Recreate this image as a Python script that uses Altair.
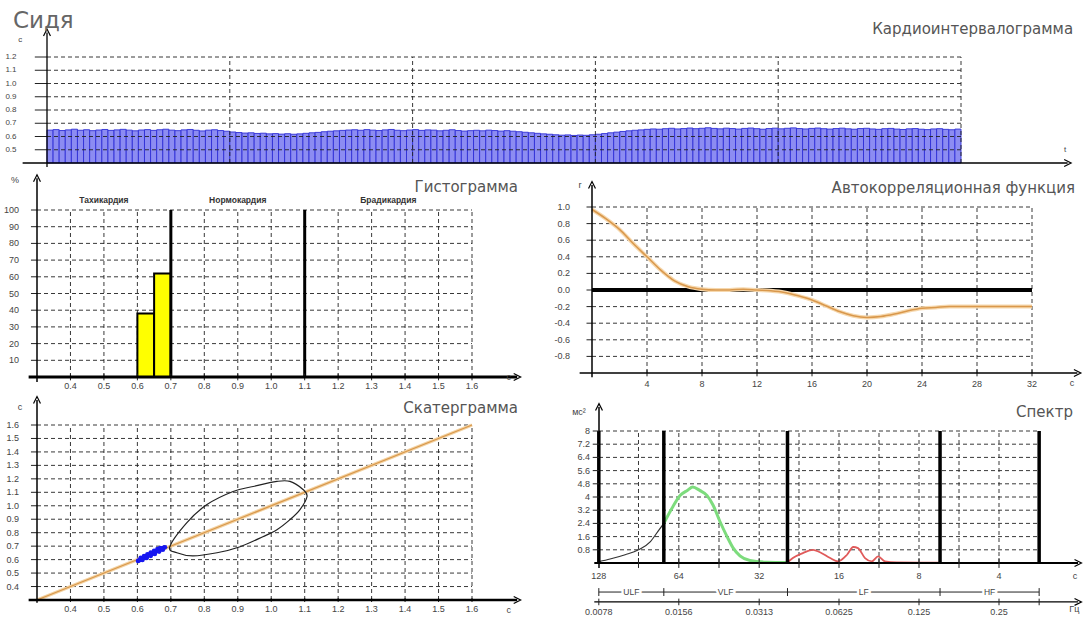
import altair as alt
import pandas as pd

# ---------------- data ----------------
# Кардиоинтервалограмма: RR intervals, s
rr_s = [0.648, 0.652, 0.645, 0.650, 0.655, 0.647, 0.651, 0.644, 0.649, 0.653,
        0.646, 0.650, 0.654, 0.648, 0.643, 0.649, 0.652, 0.646, 0.651, 0.655,
        0.648, 0.644, 0.650, 0.653, 0.647, 0.642, 0.648, 0.651, 0.645, 0.640,
        0.634, 0.630, 0.626, 0.628, 0.623, 0.625, 0.620, 0.622, 0.618, 0.621,
        0.617, 0.620, 0.624, 0.628, 0.631, 0.636, 0.640, 0.643, 0.646, 0.649,
        0.651, 0.647, 0.652, 0.648, 0.645, 0.650, 0.653, 0.647, 0.644, 0.649,
        0.652, 0.646, 0.650, 0.648, 0.643, 0.647, 0.651, 0.645, 0.641, 0.644,
        0.647, 0.643, 0.648, 0.645, 0.641, 0.644, 0.640, 0.636, 0.632, 0.628,
        0.624, 0.620, 0.617, 0.613, 0.610, 0.612, 0.608, 0.611, 0.609, 0.613,
        0.617, 0.622, 0.628, 0.633, 0.638, 0.643, 0.647, 0.650, 0.654, 0.657,
        0.655, 0.659, 0.662, 0.657, 0.660, 0.664, 0.659, 0.662, 0.666, 0.661,
        0.658, 0.663, 0.660, 0.656, 0.661, 0.664, 0.659, 0.655, 0.660, 0.663,
        0.658, 0.662, 0.665, 0.660, 0.657, 0.661, 0.664, 0.659, 0.656, 0.660,
        0.663, 0.658, 0.655, 0.660, 0.662, 0.657, 0.654, 0.659, 0.661, 0.656,
        0.653, 0.658, 0.660, 0.655, 0.652, 0.657, 0.659, 0.654, 0.651, 0.656]
top_y_ticks = [0.5, 0.6, 0.7, 0.8, 0.9, 1.0, 1.1, 1.2]
top_x_grid = [30, 60, 90, 120, 150]

# Гистограмма
hist_lo = [0.60, 0.65]
hist_hi = [0.65, 0.70]
hist_pct = [38, 62]
hist_x_ticks = [0.4, 0.5, 0.6, 0.7, 0.8, 0.9, 1.0, 1.1, 1.2, 1.3, 1.4, 1.5, 1.6]
hist_y_ticks = [10, 20, 30, 40, 50, 60, 70, 80, 90, 100]
zone_edges = [0.3, 0.7, 1.1, 1.6]
zone_names = ["Тахикардия", "Нормокардия", "Брадикардия"]

# Автокорреляционная функция
ac_lag = list(range(33))
ac_r = [0.97, 0.86, 0.73, 0.56, 0.40, 0.24, 0.11, 0.04, 0.01, 0.00, 0.00,
        0.01, 0.00, -0.01, -0.03, -0.07, -0.12, -0.19, -0.26, -0.31, -0.33,
        -0.32, -0.29, -0.25, -0.22, -0.21, -0.20, -0.20, -0.20, -0.20, -0.20,
        -0.20, -0.20]
ac_x_ticks = [4, 8, 12, 16, 20, 24, 28, 32]
ac_y_ticks = [1.0, 0.8, 0.6, 0.4, 0.2, 0.0, -0.2, -0.4, -0.6, -0.8]

# Скатерграмма
sc_rr_n = [0.602, 0.606, 0.610, 0.614, 0.618, 0.622, 0.626, 0.630, 0.634, 0.638,
           0.642, 0.646, 0.650, 0.654, 0.658, 0.662, 0.666, 0.670, 0.674, 0.678,
           0.682, 0.610, 0.620, 0.630, 0.640, 0.650, 0.660, 0.668, 0.615, 0.628,
           0.640, 0.652, 0.665, 0.676]
sc_rr_n1 = [0.590, 0.596, 0.601, 0.606, 0.612, 0.617, 0.622, 0.627, 0.633, 0.638,
            0.643, 0.648, 0.654, 0.659, 0.664, 0.669, 0.674, 0.679, 0.684, 0.688,
            0.692, 0.613, 0.626, 0.639, 0.652, 0.665, 0.678, 0.686, 0.598, 0.612,
            0.628, 0.642, 0.660, 0.674]
ell_x = [0.697, 0.748, 0.808, 0.886, 0.946, 1.017, 1.056, 1.095, 1.107, 1.086,
         1.056, 1.017, 0.975, 0.907, 0.838, 0.766, 0.718]
ell_y = [0.696, 0.875, 1.009, 1.106, 1.143, 1.181, 1.181, 1.121, 1.069, 0.972,
         0.897, 0.822, 0.770, 0.696, 0.651, 0.628, 0.651]
sc_ticks = [0.4, 0.5, 0.6, 0.7, 0.8, 0.9, 1.0, 1.1, 1.2, 1.3, 1.4, 1.5, 1.6]
diag = [0.3, 1.6]

# Спектр
ulf_f = [0.0078, 0.0086, 0.0098, 0.0110, 0.0122, 0.0130, 0.0137]
ulf_p = [0.08, 0.24, 0.50, 0.80, 1.30, 1.90, 2.40]
vlf_f = [0.0137, 0.0148, 0.0158, 0.0168, 0.0176, 0.0187, 0.0199, 0.0210,
         0.0223, 0.0237, 0.0250, 0.0265, 0.0289, 0.0335, 0.0400]
vlf_p = [2.40, 3.40, 4.10, 4.40, 4.60, 4.40, 4.10, 3.50, 2.50, 1.60, 0.90,
         0.43, 0.15, 0.05, 0.03]
lf_f = [0.0400, 0.0419, 0.0457, 0.0499, 0.0530, 0.0579, 0.0620, 0.0670, 0.0707,
        0.0737, 0.0783, 0.0831, 0.0877, 0.0930, 0.1032, 0.1250, 0.1500]
lf_p = [0.03, 0.30, 0.60, 0.80, 0.65, 0.30, 0.10, 0.50, 0.97, 0.90, 0.30, 0.10,
        0.40, 0.10, 0.03, 0.02, 0.02]
hf_f = [0.150, 0.200, 0.250, 0.300, 0.354]
hf_p = [0.02, 0.02, 0.02, 0.02, 0.02]
sp_y_ticks = [0.8, 1.6, 2.4, 3.2, 4.0, 4.8, 5.6, 6.4, 7.2, 8.0]
sp_grid_f = [0.0110, 0.0156, 0.0221, 0.0313, 0.0442, 0.0625, 0.0884, 0.125,
             0.1768, 0.25]
band_edges = [0.0078, 0.0137, 0.04, 0.15, 0.354]
band_names = ["ULF", "VLF", "LF", "HF"]
period_labels = ["128", "64", "32", "16", "8", "4"]
freq_ticks = [0.0078, 0.0156, 0.0313, 0.0625, 0.125, 0.25]
freq_labels = ["0.0078", "0.0156", "0.0313", "0.0625", "0.125", "0.25"]

# ---------------- layout (panel scales) ----------------
PANELS = {
    "top": dict(xd=[0, 150], xr=[47, 961], yd=[0.4, 1.2], yr=[163, 57]),
    "hist": dict(xd=[0.3, 1.6], xr=[37, 472], yd=[0, 100], yr=[377, 210]),
    "ac": dict(xd=[0, 32], xr=[592, 1032], yd=[-1, 1], yr=[373, 207]),
    "sc": dict(xd=[0.3, 1.6], xr=[37, 472], yd=[0.3, 1.6], yr=[600, 425]),
    "sp": dict(xd=[1 / 128, 0.5], xr=[599, 1079], yd=[0, 8], yr=[563, 431], log=True),
}
SMALL = "Liberation Sans"
TITLE = "DejaVu Sans"
GRID = dict(color="#222222", strokeWidth=0.9, strokeDash=[4, 3])
UP = "M -1 1 L 0 -1 L 1 1"
RIGHT = "M -1 -1 L 1 0 L -1 1"


def xs(p):
    d = PANELS[p]
    if d.get("log"):
        return alt.Scale(type="log", base=2, domain=d["xd"], range=d["xr"], nice=False)
    return alt.Scale(domain=d["xd"], range=d["xr"], nice=False, zero=False)


def ys(p):
    d = PANELS[p]
    return alt.Scale(domain=d["yd"], range=d["yr"], nice=False, zero=False)


def XY(p, xf="x", yf="y"):
    return dict(x=alt.X(f"{xf}:Q", scale=xs(p), axis=None),
                y=alt.Y(f"{yf}:Q", scale=ys(p), axis=None))


def segs(p, rows, **mk):
    df = pd.DataFrame(rows, columns=["x", "y", "x2", "y2"])
    return alt.Chart(df).mark_rule(**mk).encode(**XY(p), x2=alt.X2("x2"), y2=alt.Y2("y2"))


def texts(p, rows, **mk):
    style = dict(font=SMALL, fontSize=9, fill="#444444")
    style.update(mk)
    df = pd.DataFrame(rows, columns=["x", "y", "t"])
    return alt.Chart(df).mark_text(**style).encode(**XY(p), text="t:N")


def arrow(p, x, y, shape):
    df = pd.DataFrame({"x": [x], "y": [y]})
    return alt.Chart(df).mark_point(shape=shape, filled=False, stroke="black",
                                    strokeWidth=1.2, size=48, opacity=1).encode(**XY(p))


def curve(p, xv, yv, **mk):
    df = pd.DataFrame({"x": xv, "y": yv, "o": list(range(len(xv)))})
    return alt.Chart(df).mark_line(**mk).encode(**XY(p), order="o:Q")


def title(p, x, y, t, **mk):
    style = dict(font=TITLE, fontSize=15, fill="#555555", align="right", baseline="middle")
    style.update(mk)
    return texts(p, [(x, y, t)], **style)


L = []

# ---------- Top panel: Кардиоинтервалограмма ----------
bars = pd.DataFrame({"i": list(range(len(rr_s))), "v": rr_s})
L.append(alt.Chart(bars).transform_calculate(i2="datum.i + 1").mark_rect(
    fill="#8c8cf2", stroke="#2f2fd6", strokeWidth=0.9).encode(
    x=alt.X("i:Q", scale=xs("top"), axis=None), x2=alt.X2("i2"),
    y=alt.Y("v:Q", scale=ys("top"), axis=None), y2=alt.datum(0.4)))
L.append(segs("top", [(0, v, 150, v) for v in top_y_ticks] +
              [(g, 0.4, g, 1.2) for g in top_x_grid], **GRID))
L.append(segs("top", [(-2, v, 0, v) for v in top_y_ticks], color="#222", strokeWidth=1))
L.append(segs("top", [(-4, 0.4, 167.5, 0.4), (0, 0.37, 0, 1.385)], color="black", strokeWidth=1.3))
L.append(arrow("top", 0, 1.385, UP))
L.append(arrow("top", 167.5, 0.4, RIGHT))
L.append(texts("top", [(-5, v, f"{v:.1f}") for v in top_y_ticks], align="right",
               baseline="middle", fontSize=8))
L.append(texts("top", [(-4.4, 1.325, "с"), (167.1, 0.4975, "t")], align="center",
               baseline="middle", fontSize=8))
L.append(title("top", 168.4, 1.415, "Кардиоинтервалограмма"))
L.append(texts("top", [(-5.6, 1.42, "Сидя")], font=TITLE, fontSize=23, fill="#666666",
               align="left", baseline="alphabetic"))

# ---------- Histogram ----------
L.append(segs("hist", [(0.3, v, 1.6, v) for v in hist_y_ticks] +
              [(t, 0, t, 100) for t in hist_x_ticks], **GRID))
hb = pd.DataFrame({"lo": hist_lo, "hi": hist_hi, "pct": hist_pct})
L.append(alt.Chart(hb).mark_rect(fill="#ffff00", stroke="black", strokeWidth=2).encode(
    x=alt.X("lo:Q", scale=xs("hist"), axis=None), x2=alt.X2("hi"),
    y=alt.Y("pct:Q", scale=ys("hist"), axis=None), y2=alt.datum(0)))
L.append(segs("hist", [(b, 0, b, 100) for b in zone_edges[1:3]], color="black", strokeWidth=3))
L.append(segs("hist", [(0.282, v, 0.3, v) for v in hist_y_ticks] +
              [(t, -2, t, 2) for t in hist_x_ticks], color="#222", strokeWidth=1))
L.append(segs("hist", [(0.275, 0, 1.735, 0)], color="black", strokeWidth=3))
L.append(segs("hist", [(0.3, -3, 0.3, 119)], color="black", strokeWidth=1.5))
L.append(arrow("hist", 0.3, 119, UP))
L.append(arrow("hist", 1.735, 0, RIGHT))
L.append(texts("hist", [(0.246, v, str(v)) for v in hist_y_ticks], align="right", baseline="middle"))
L.append(texts("hist", [(t, 0, f"{t:.1f}") for t in hist_x_ticks], align="center",
               baseline="top", dy=5))
L.append(texts("hist", [(0.234, 118, "%"), (1.71, 0, "с")], align="center", baseline="middle",
               dy=0))
L.append(texts("hist", [((zone_edges[k] + zone_edges[k + 1]) / 2, 106, zone_names[k])
                        for k in range(3)], align="center", baseline="middle",
               fontSize=8.5, fontWeight="bold", fill="#333333"))
L.append(title("hist", 1.7375, 114, "Гистограмма"))

# ---------- Autocorrelation ----------
L.append(segs("ac", [(0, v, 32, v) for v in ac_y_ticks if v != 0] +
              [(t, -1, t, 1) for t in ac_x_ticks], **GRID))
L.append(segs("ac", [(0, 0, 32, 0)], color="black", strokeWidth=4))
L.append(curve("ac", ac_lag, ac_r, color="#f6d8ae", strokeWidth=4, interpolate="monotone"))
L.append(curve("ac", ac_lag, ac_r, color="#d9984c", strokeWidth=1.5, interpolate="monotone"))
L.append(segs("ac", [(-0.4, v, 0, v) for v in ac_y_ticks] +
              [(t, -1.04, t, -0.96) for t in ac_x_ticks], color="#222", strokeWidth=1))
L.append(segs("ac", [(-0.9, -1, 35.3, -1), (0, -1.05, 0, 1.265)], color="black", strokeWidth=1.5))
L.append(arrow("ac", 0, 1.265, UP))
L.append(arrow("ac", 35.3, -1, RIGHT))
L.append(texts("ac", [(-1.6, v, f"{v:.1f}") for v in ac_y_ticks], align="right", baseline="middle"))
L.append(texts("ac", [(t, -1, str(t)) for t in ac_x_ticks], align="center", baseline="top", dy=7))
L.append(texts("ac", [(-0.87, 1.265, "r")], align="center", baseline="middle"))
L.append(texts("ac", [(34.9, -1, "с")], align="center", baseline="top", dy=6))
L.append(title("ac", 35.13, 1.23, "Автокорреляционная функция"))

# ---------- Scattergram ----------
L.append(segs("sc", [(0.3, v, 1.6, v) for v in sc_ticks] +
              [(t, 0.3, t, 1.6) for t in sc_ticks], **GRID))
L.append(curve("sc", diag, diag, color="#f3d3a3", strokeWidth=3.5))
L.append(curve("sc", diag, diag, color="#d9984c", strokeWidth=1.3))
L.append(curve("sc", ell_x, ell_y, color="#222222", strokeWidth=1.2, interpolate="cardinal-closed"))
L.append(alt.Chart(pd.DataFrame({"x": sc_rr_n, "y": sc_rr_n1})).mark_point(
    filled=True, shape="circle", size=22, color="#1616f0", opacity=1).encode(**XY("sc")))
L.append(segs("sc", [(0.282, v, 0.3, v) for v in sc_ticks] +
              [(t, 0.285, t, 0.315) for t in sc_ticks], color="#222", strokeWidth=1))
L.append(segs("sc", [(0.275, 0.3, 1.735, 0.3)], color="black", strokeWidth=2.5))
L.append(segs("sc", [(0.3, 0.28, 0.3, 1.786)], color="black", strokeWidth=1.5))
L.append(arrow("sc", 0.3, 1.786, UP))
L.append(arrow("sc", 1.735, 0.3, RIGHT))
L.append(texts("sc", [(0.246, v, f"{v:.1f}") for v in sc_ticks], align="right", baseline="middle"))
L.append(texts("sc", [(t, 0.3, f"{t:.1f}") for t in sc_ticks], align="center", baseline="top", dy=5))
L.append(texts("sc", [(0.249, 1.734, "с")], align="center", baseline="middle"))
L.append(texts("sc", [(1.71, 0.3, "с")], align="center", baseline="top", dy=6))
L.append(title("sc", 1.7375, 1.726, "Скатерграмма"))

# ---------- Spectrum ----------
L.append(segs("sp", [(1 / 128, v, 0.354, v) for v in sp_y_ticks] +
              [(f, 0, f, 8) for f in sp_grid_f], **GRID))
L.append(curve("sp", ulf_f, ulf_p, color="#333333", strokeWidth=1.2, interpolate="monotone"))
L.append(curve("sp", vlf_f, vlf_p, color="#7ddc7d", strokeWidth=3, interpolate="monotone"))
L.append(curve("sp", lf_f, lf_p, color="#e05a5a", strokeWidth=1.8, interpolate="monotone"))
L.append(curve("sp", hf_f, hf_p, color="#3344cc", strokeWidth=1.2))
L.append(segs("sp", [(b, 0, b, 8) for b in band_edges], color="black", strokeWidth=3.5))
L.append(segs("sp", [(0.0075, 0, 0.4957, 0)], color="black", strokeWidth=2))
L.append(segs("sp", [(1 / 128, -0.3, 1 / 128, 9.45)], color="black", strokeWidth=1.5))
L.append(segs("sp", [(f, -0.3, f, 0.3) for f in sp_grid_f] +
              [(0.0074, v, 1 / 128, v) for v in sp_y_ticks], color="#222", strokeWidth=1))
L.append(arrow("sp", 1 / 128, 9.45, UP))
L.append(arrow("sp", 0.4957, 0, RIGHT))
# band bracket
L.append(segs("sp", [(band_edges[0], -1.76, band_edges[-1], -1.76)] +
              [(b, -2.0, b, -1.52) for b in band_edges], color="#222", strokeWidth=1))
band_lbl = [((band_edges[k] * band_edges[k + 1]) ** 0.5, -1.76, band_names[k]) for k in range(4)]
L.append(texts("sp", band_lbl, align="center", baseline="middle", fontSize=8.5,
               fill="white", stroke="white", strokeWidth=5))
L.append(texts("sp", band_lbl, align="center", baseline="middle", fontSize=8.5))
# frequency axis
L.append(segs("sp", [(0.0075, -2.36, 0.4957, -2.36)], color="black", strokeWidth=1.2))
L.append(segs("sp", [(f, -2.56, f, -2.16) for f in freq_ticks + [band_edges[-1]]],
              color="#222", strokeWidth=1))
L.append(arrow("sp", 0.4957, -2.36, RIGHT))
L.append(texts("sp", [(freq_ticks[k], -2.36, freq_labels[k]) for k in range(6)],
               align="center", baseline="top", dy=6))
L.append(texts("sp", [(freq_ticks[k], 0, period_labels[k]) for k in range(6)],
               align="center", baseline="top", dy=9))
L.append(texts("sp", [(0.00722, v, f"{v:g}") for v in sp_y_ticks], align="right", baseline="middle"))
L.append(texts("sp", [(0.483, 0, "с")], align="center", baseline="top", dy=9))
L.append(texts("sp", [(0.48, -2.36, "Гц")], align="center", baseline="top", dy=3))
L.append(texts("sp", [(0.00657, 9.15, "мс²")], align="center", baseline="middle"))
L.append(title("sp", 0.4744, 9.15, "Спектр"))

chart = alt.layer(*L).resolve_scale(x="independent", y="independent").properties(
    width=1088, height=621, padding=0, autosize="none", background="white"
).configure_view(stroke=None)

chart.save("out.html", embed_options={"renderer": "svg", "actions": False})
